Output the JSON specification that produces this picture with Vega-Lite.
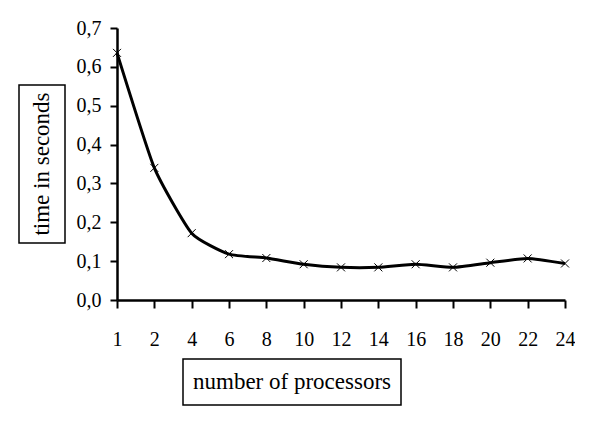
{
  "$schema": "https://vega.github.io/schema/vega-lite/v6.json",
  "padding": {"left": 18, "top": 18, "right": 0, "bottom": 0},
  "background": "white",
  "columns": 2,
  "spacing": {"column": 52, "row": 59},
  "bounds": "flush",
  "align": "each",
  "center": true,
  "config": {"font": "Liberation Serif", "view": {"stroke": null}},
  "concat": [
    {
      "width": 46,
      "height": 158,
      "view": {"stroke": "black", "strokeWidth": 1.5},
      "data": {"values": [{"label": "time in seconds"}]},
      "mark": {"type": "text", "angle": 270, "fontSize": 23, "font": "Liberation Serif", "color": "black", "baseline": "middle", "align": "center"},
      "encoding": {"text": {"field": "label"}}
    },
    {
      "width": 448,
      "height": 272,
      "data": {"values": [
        {"processors": 1, "time": 0.636},
        {"processors": 2, "time": 0.34},
        {"processors": 4, "time": 0.172},
        {"processors": 6, "time": 0.118},
        {"processors": 8, "time": 0.108},
        {"processors": 10, "time": 0.092},
        {"processors": 12, "time": 0.084},
        {"processors": 14, "time": 0.084},
        {"processors": 16, "time": 0.092},
        {"processors": 18, "time": 0.084},
        {"processors": 20, "time": 0.096},
        {"processors": 22, "time": 0.107},
        {"processors": 24, "time": 0.094}
      ]},
      "encoding": {
        "x": {
          "field": "processors", "type": "ordinal", "sort": null,
          "scale": {"type": "point", "padding": 0},
          "axis": {"title": null, "labelAngle": 0, "domainColor": "black", "domainWidth": 2.5, "tickColor": "black", "tickWidth": 2, "tickSize": 8, "labelFontSize": 20, "labelColor": "black", "labelPadding": 21, "labelFont": "Liberation Serif"}
        },
        "y": {
          "field": "time", "type": "quantitative",
          "scale": {"domain": [0, 0.7], "nice": false},
          "axis": {"title": null, "grid": false, "values": [0, 0.1, 0.2, 0.3, 0.4, 0.5, 0.6, 0.7], "labelExpr": "replace(format(datum.value, '.1f'), '.', ',')", "domainColor": "black", "domainWidth": 2.5, "tickColor": "black", "tickWidth": 2, "tickSize": 7, "labelFontSize": 20, "labelColor": "black", "labelPadding": 9, "labelFont": "Liberation Serif"}
        }
      },
      "layer": [
        {"mark": {"type": "line", "interpolate": "cardinal", "tension": 0.5, "color": "black", "strokeWidth": 3}},
        {"mark": {"type": "point", "shape": "M-1,-1L1,1M-1,1L1,-1", "filled": false, "color": "black", "size": 64, "strokeWidth": 1, "opacity": 1}}
      ]
    },
    {
      "width": 46,
      "height": 46,
      "data": {"values": []},
      "mark": {"type": "text"},
      "encoding": {}
    },
    {
      "width": 218,
      "height": 46,
      "view": {"stroke": "black", "strokeWidth": 1.5},
      "data": {"values": [{"label": "number of processors"}]},
      "mark": {"type": "text", "fontSize": 23, "font": "Liberation Serif", "color": "black", "baseline": "middle", "align": "center"},
      "encoding": {"text": {"field": "label"}}
    }
  ]
}
